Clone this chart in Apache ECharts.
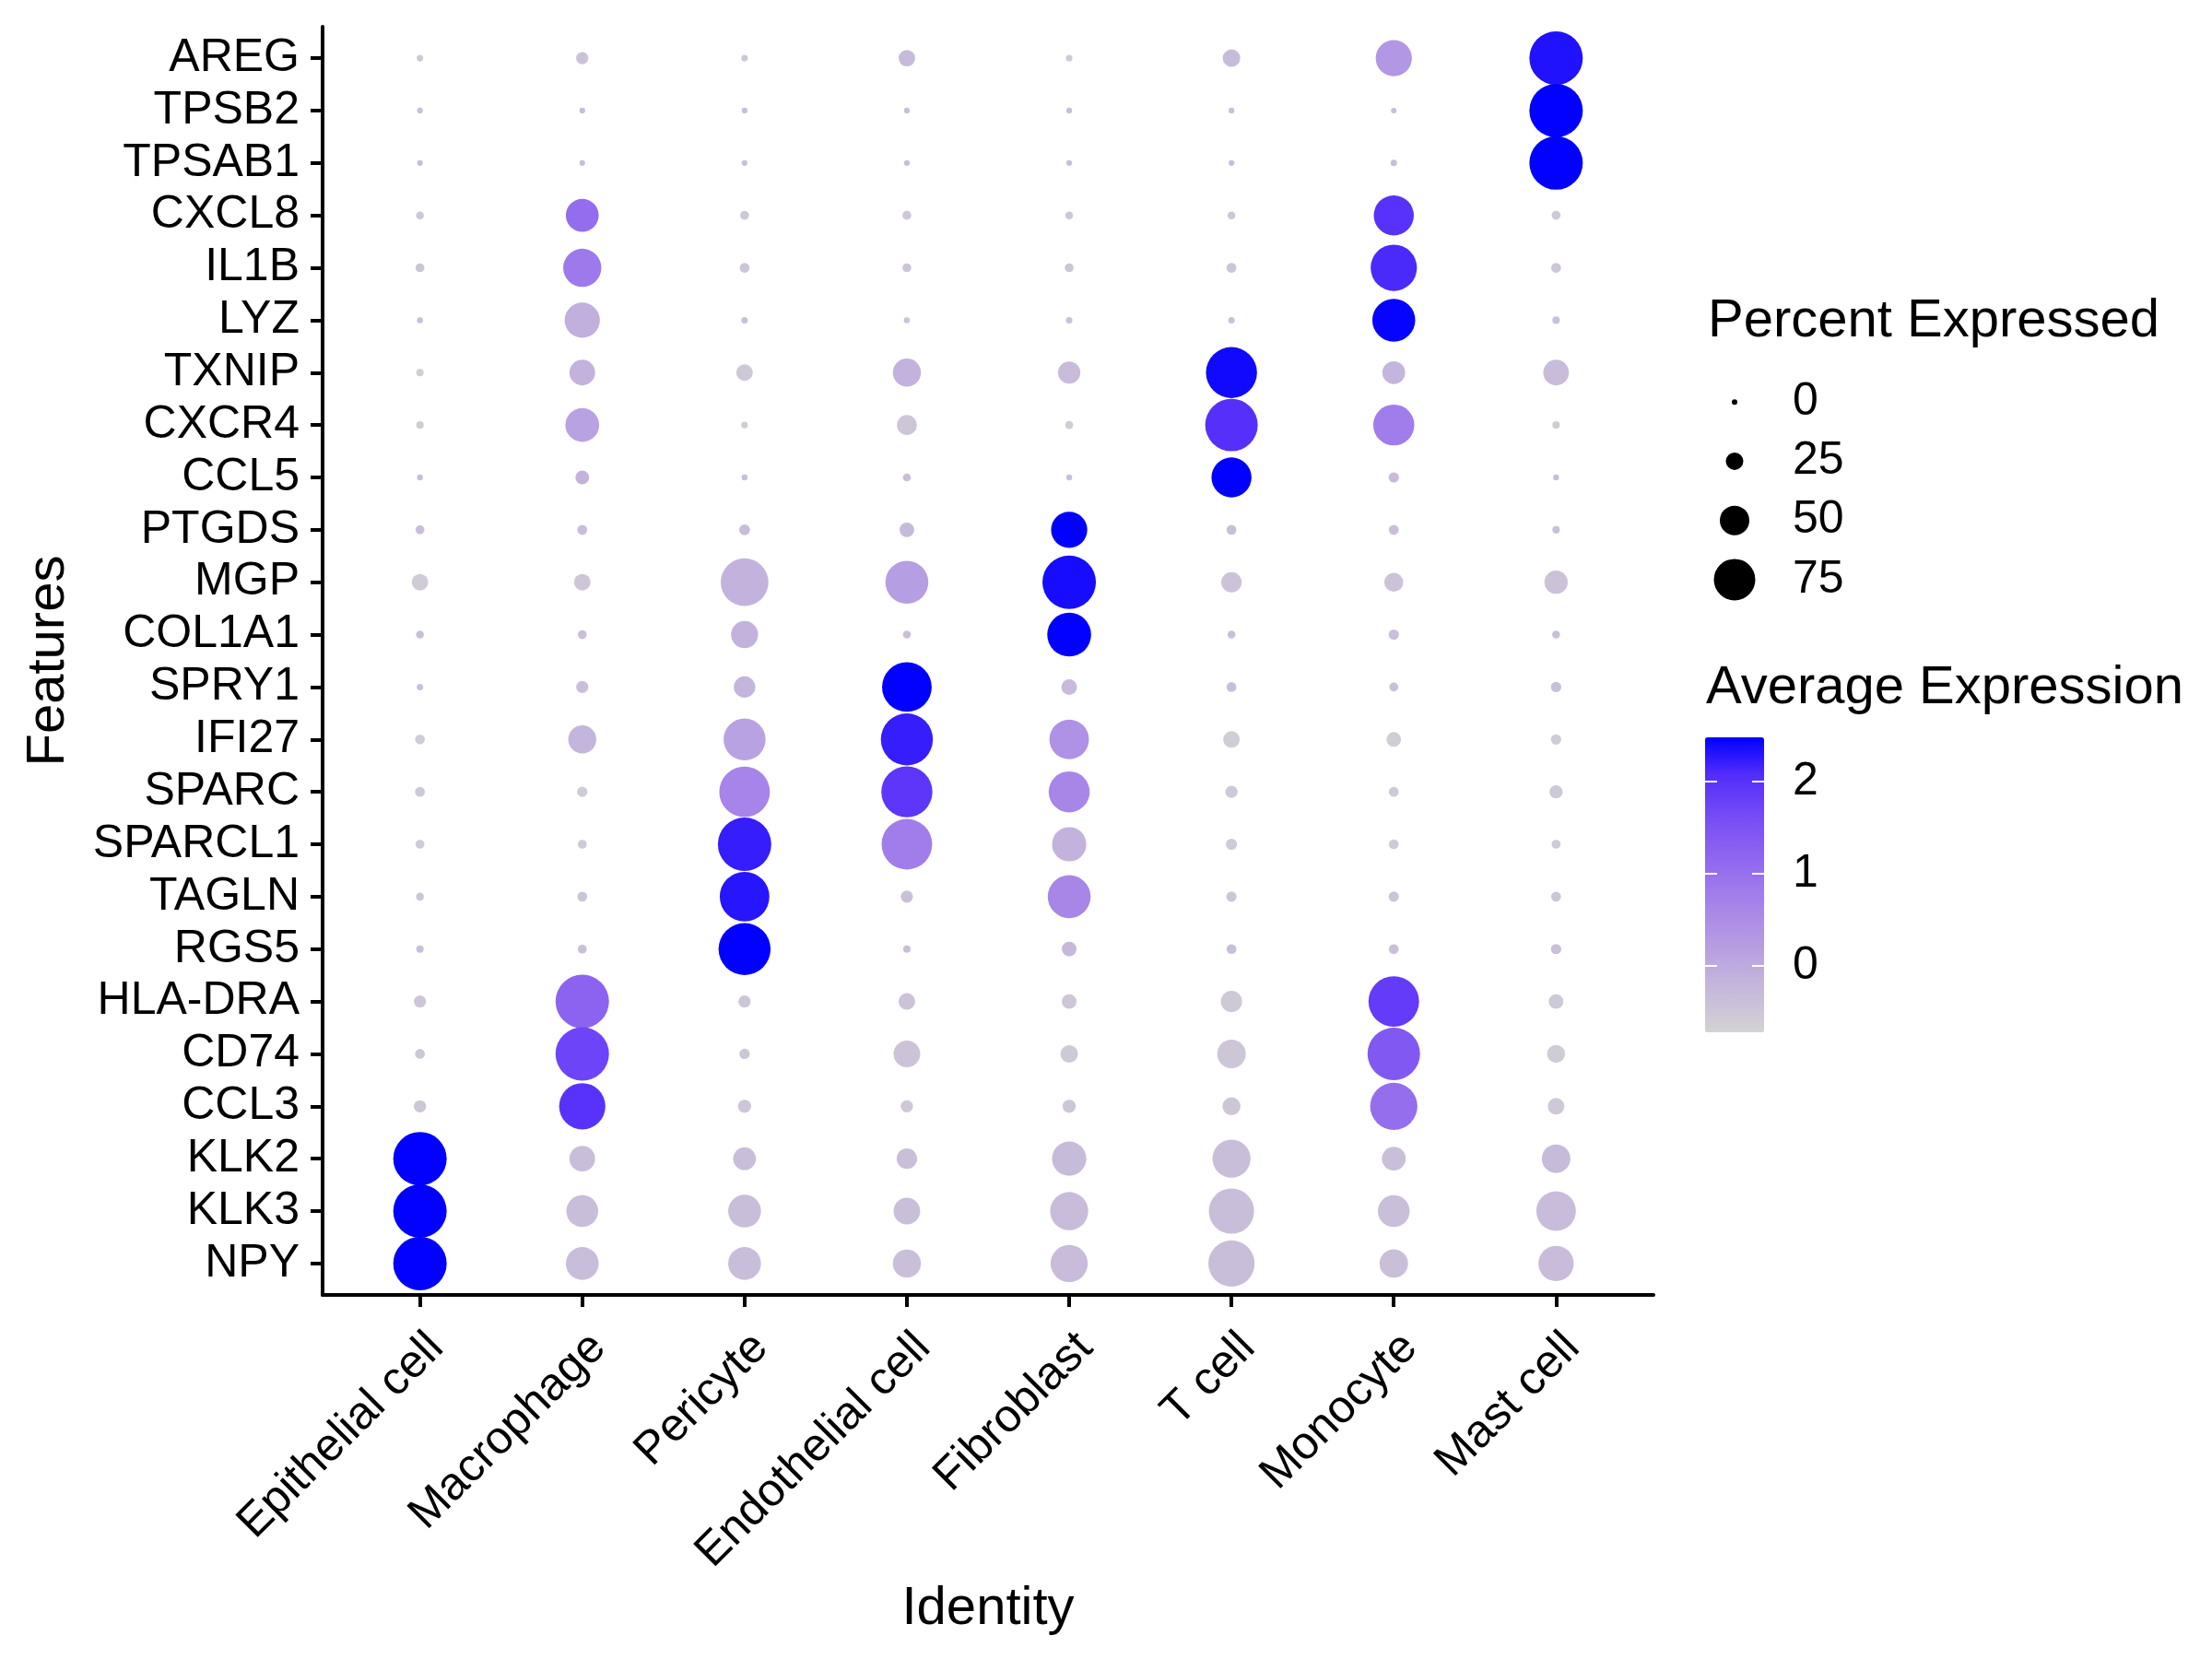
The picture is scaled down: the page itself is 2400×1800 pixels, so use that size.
<!DOCTYPE html>
<html>
<head>
<meta charset="utf-8">
<script src="https://cdn.jsdelivr.net/npm/echarts@6/dist/echarts.min.js"></script>
<style>
html,body{margin:0;padding:0;background:#fff;}
#chart{width:2400px;height:1800px;}
</style>
</head>
<body>
<div id="chart"></div>
<script>
// ---- data ----
const cellTypes = ["Epithelial cell","Macrophage","Pericyte","Endothelial cell","Fibroblast","T cell","Monocyte","Mast cell"];
const genes = ["AREG","TPSB2","TPSAB1","CXCL8","IL1B","LYZ","TXNIP","CXCR4","CCL5","PTGDS","MGP","COL1A1","SPRY1","IFI27","SPARC","SPARCL1","TAGLN","RGS5","HLA-DRA","CD74","CCL3","KLK2","KLK3","NPY"];
// percent expressed, one row per gene (columns follow cellTypes)
const pctExp = [
  [2, 14, 2, 23, 2, 25, 64, 100],
  [0.5, 0.5, 0.5, 0.5, 0.5, 0.5, 0, 100],
  [0.5, 0.5, 0.5, 0.5, 0.5, 0.5, 2, 100],
  [5, 57, 7, 7, 5, 5, 72, 7],
  [7, 68, 9, 7, 7, 9, 85, 9],
  [1, 62, 2, 1, 2, 2, 78, 4],
  [4, 42, 23, 47, 35, 95, 36, 42],
  [4, 59, 2, 30, 5, 98, 74, 4],
  [1, 17, 1, 5, 1, 72, 10, 1],
  [7, 9, 11, 19, 64, 9, 9, 4],
  [23, 23, 88, 78, 100, 31, 28, 37],
  [5, 7, 45, 5, 80, 5, 10, 5],
  [2, 14, 33, 92, 21, 9, 7, 10],
  [9, 47, 76, 97, 71, 23, 19, 10],
  [9, 10, 94, 95, 74, 14, 9, 16],
  [7, 7, 100, 94, 60, 12, 9, 7],
  [5, 9, 92, 14, 78, 10, 10, 9],
  [4, 7, 97, 4, 19, 9, 9, 10],
  [14, 100, 14, 23, 19, 33, 94, 19],
  [9, 100, 10, 44, 25, 48, 98, 26],
  [14, 85, 16, 14, 16, 26, 87, 23],
  [100, 42, 36, 31, 60, 68, 38, 48],
  [100, 55, 57, 44, 68, 83, 55, 71],
  [100, 57, 57, 47, 66, 85, 48, 62]
];
// scaled average expression, one row per gene
const avgExp = [
  [-0.51, -0.45, -0.51, -0.3, -0.55, -0.3, 0.33, 2.32],
  [-0.35, -0.35, -0.35, -0.35, -0.35, -0.35, -0.36, 2.47],
  [-0.35, -0.35, -0.35, -0.35, -0.35, -0.35, -0.36, 2.47],
  [-0.51, 1.07, -0.51, -0.51, -0.51, -0.51, 2.0, -0.52],
  [-0.48, 0.85, -0.48, -0.48, -0.48, -0.48, 2.12, -0.5],
  [-0.39, -0.1, -0.39, -0.39, -0.39, -0.39, 2.45, -0.39],
  [-0.65, -0.17, -0.55, -0.15, -0.32, 2.4, -0.2, -0.32],
  [-0.6, 0.14, -0.62, -0.5, -0.62, 2.03, 0.78, -0.62],
  [-0.36, -0.17, -0.38, -0.36, -0.38, 2.47, -0.32, -0.38],
  [-0.35, -0.36, -0.34, -0.3, 2.47, -0.37, -0.37, -0.38],
  [-0.6, -0.5, -0.17, 0.21, 2.37, -0.45, -0.45, -0.42],
  [-0.38, -0.38, -0.17, -0.38, 2.47, -0.38, -0.38, -0.38],
  [-0.38, -0.38, -0.2, 2.47, -0.28, -0.38, -0.38, -0.38],
  [-0.59, -0.2, 0.14, 2.22, 0.43, -0.62, -0.62, -0.6],
  [-0.55, -0.6, 0.66, 1.94, 0.62, -0.55, -0.55, -0.55],
  [-0.58, -0.58, 2.22, 0.78, -0.17, -0.56, -0.56, -0.56],
  [-0.47, -0.47, 2.29, -0.4, 0.62, -0.48, -0.48, -0.5],
  [-0.37, -0.37, 2.47, -0.37, -0.25, -0.37, -0.37, -0.37],
  [-0.5, 1.23, -0.5, -0.45, -0.5, -0.55, 1.87, -0.55],
  [-0.5, 1.74, -0.5, -0.45, -0.55, -0.5, 1.42, -0.6],
  [-0.5, 2.0, -0.5, -0.52, -0.5, -0.5, 1.04, -0.52],
  [2.47, -0.35, -0.35, -0.37, -0.3, -0.35, -0.38, -0.3],
  [2.47, -0.35, -0.35, -0.37, -0.32, -0.35, -0.38, -0.32],
  [2.47, -0.35, -0.35, -0.37, -0.32, -0.35, -0.38, -0.32]
];
const sizeLegendValues = [0, 25, 50, 75];
const sizeLegendLabels = ["0", "25", "50", "75"];
const colorTickValues = [0, 1, 2];
const colorRange = [-0.72, 2.48];
const pctRange = [0, 100];

// ---- build ----
const FONT = "'Liberation Sans', Arial, Helvetica, sans-serif";
const dotData = [];
genes.forEach((g, gi) => {
  cellTypes.forEach((c, ci) => {
    dotData.push([ci, gi, pctExp[gi][ci], avgExp[gi][ci], g, c]);
  });
});
const legendDots = sizeLegendValues.map((v, i) => [0, i, v]);
const xIdx = cellTypes.map((c, i) => i);
const yIdx = genes.map((g, i) => i);

const chart = echarts.init(document.getElementById('chart'), null, {renderer: 'canvas'});
const axisLineStyle = {color: '#000', width: 4};
chart.setOption({
  animation: false,
  backgroundColor: '#fff',
  textStyle: {fontFamily: FONT},
  grid: [
    {left: 350, top: 29, width: 1444, height: 1376},
    {left: 1850, top: 404, width: 64, height: 257},
    {left: 1850, top: 800, width: 64, height: 320}
  ],
  xAxis: [
    {
      gridIndex: 0, type: 'value', min: -0.6, max: 7.6,
      name: 'Identity', nameLocation: 'middle', nameGap: 310,
      nameTextStyle: {fontSize: 58, color: '#000', fontFamily: FONT, verticalAlign: 'top'},
      axisLine: {show: true, onZero: false, lineStyle: axisLineStyle},
      axisTick: {show: true, length: 13, lineStyle: axisLineStyle, customValues: xIdx},
      splitLine: {show: false},
      axisLabel: {
        customValues: xIdx, rotate: 45, fontSize: 50, color: '#000', fontFamily: FONT,
        margin: 32, align: 'right', verticalAlign: 'top',
        formatter: v => cellTypes[Math.round(v)]
      }
    },
    {gridIndex: 1, type: 'value', min: -1, max: 1, show: false},
    {gridIndex: 2, type: 'value', min: 0, max: 1, show: false}
  ],
  yAxis: [
    {
      gridIndex: 0, type: 'value', min: -0.6, max: 23.6, inverse: true,
      name: 'Features', nameLocation: 'middle', nameGap: 268,
      nameTextStyle: {fontSize: 58, color: '#000', fontFamily: FONT},
      axisLine: {show: true, onZero: false, lineStyle: axisLineStyle},
      axisTick: {show: true, length: 13, lineStyle: axisLineStyle, customValues: yIdx},
      splitLine: {show: false},
      axisLabel: {
        customValues: yIdx, fontSize: 50, color: '#000', fontFamily: FONT, margin: 25,
        formatter: v => genes[Math.round(v)]
      }
    },
    {
      gridIndex: 1, type: 'category', data: sizeLegendLabels, inverse: true, position: 'right',
      axisLine: {show: false}, axisTick: {show: false}, splitLine: {show: false},
      axisLabel: {interval: 0, hideOverlap: false, fontSize: 50, color: '#000', fontFamily: FONT, margin: 31}
    },
    {
      gridIndex: 2, type: 'value', min: colorRange[0], max: colorRange[1], position: 'left', z: 10,
      axisLine: {show: false}, splitLine: {show: false},
      axisTick: {show: true, inside: true, length: 13, lineStyle: {color: '#fff', width: 2}, customValues: colorTickValues},
      axisLabel: {show: false}
    },
    {
      gridIndex: 2, type: 'value', min: colorRange[0], max: colorRange[1], position: 'right', z: 10,
      axisLine: {show: false}, splitLine: {show: false},
      axisTick: {show: true, inside: true, length: 13, lineStyle: {color: '#fff', width: 2}, customValues: colorTickValues},
      axisLabel: {show: true, customValues: colorTickValues, fontSize: 50, color: '#000', fontFamily: FONT, margin: 31,
        formatter: v => String(v)}
    }
  ],
  visualMap: [
    {
      type: 'continuous', seriesIndex: 0, dimension: 3,
      min: colorRange[0], max: colorRange[1],
      inRange: {color: ['#D3D3D3','#C8BCDA','#BBA5E0','#AD8EE6','#9D77EC','#8A60F1','#7248F6','#522DFB','#0000FF']},
      left: 1850, top: 800, itemWidth: 64, itemHeight: 320, padding: 0,
      calculable: false, realtime: false, hoverLink: false, text: null, showLabel: false
    },
    {
      type: 'continuous', show: false, seriesIndex: [0, 1], dimension: 2,
      min: pctRange[0], max: pctRange[1],
      inRange: {symbolSize: [6, 58]}
    }
  ],
  graphic: [
    {type: 'text', left: 1853, top: 320, style: {text: 'Percent Expressed', fontSize: 58, fill: '#000', fontFamily: FONT}},
    {type: 'text', left: 1851, top: 718, style: {text: 'Average Expression', fontSize: 58, fill: '#000', fontFamily: FONT}}
  ],
  series: [
    {
      type: 'scatter', xAxisIndex: 0, yAxisIndex: 0, symbol: 'circle',
      data: dotData, encode: {x: 0, y: 1},
      itemStyle: {opacity: 1, borderWidth: 0}, emphasis: {disabled: true}
    },
    {
      type: 'scatter', xAxisIndex: 1, yAxisIndex: 1, symbol: 'circle',
      data: legendDots, encode: {x: 0, y: 1},
      itemStyle: {color: '#000', opacity: 1}, emphasis: {disabled: true}
    }
  ]
});
</script>
</body>
</html>
